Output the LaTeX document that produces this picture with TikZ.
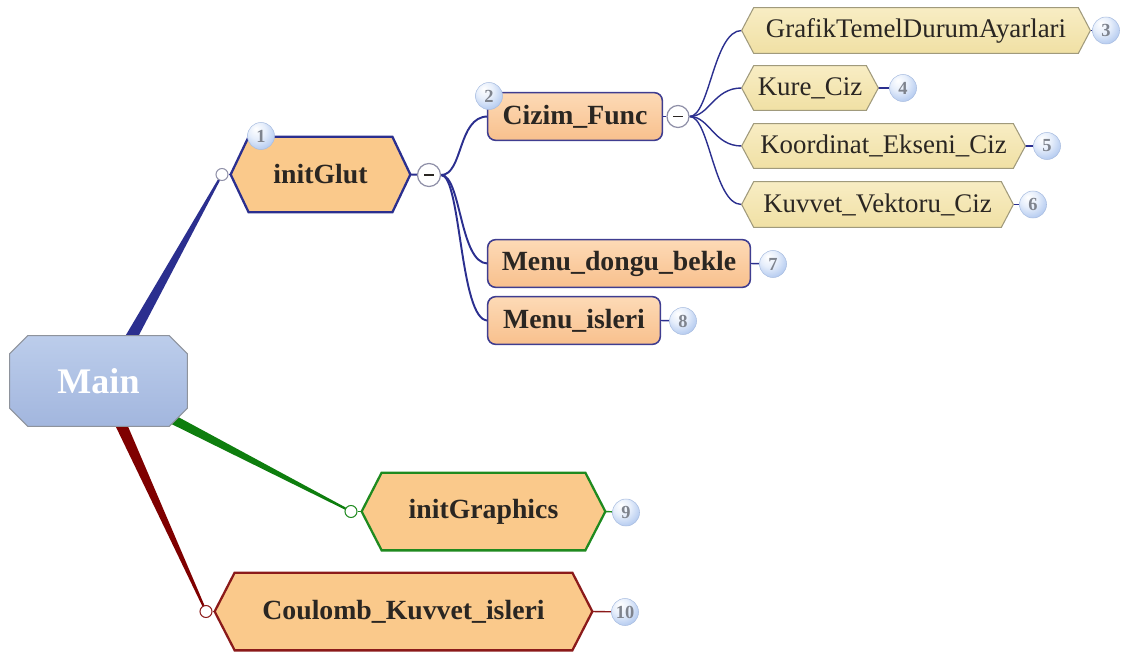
\documentclass[tikz,border=0pt]{standalone}
\usepackage{fontspec}
\setmainfont{Liberation Serif}
\usetikzlibrary{calc}

\pgfdeclarelayer{links}
\pgfdeclarelayer{shapes}
\pgfsetlayers{links,shapes,main}

% palette
\definecolor{peach}{HTML}{FAC98B}
\definecolor{peachlight}{HTML}{FDDAB6}
\definecolor{peachdark}{HTML}{F8C08D}
\definecolor{navy}{HTML}{2B2F8F}
\definecolor{navysoft}{HTML}{3F3D90}
\definecolor{khakilight}{HTML}{F8EDC4}
\definecolor{khaki}{HTML}{F0E0A4}
\definecolor{khakirim}{HTML}{A09A7C}
\definecolor{grassgreen}{HTML}{1F8A1F}
\definecolor{greenlink}{HTML}{0E7E0E}
\definecolor{maroon}{HTML}{8B1A1A}
\definecolor{redlink}{HTML}{7F0000}
\definecolor{mainlight}{HTML}{BCCDEB}
\definecolor{maindark}{HTML}{A2B6DE}
\definecolor{mainrim}{HTML}{8E939C}
\definecolor{badgeblue}{HTML}{93B3E8}
\definecolor{badgelight}{HTML}{E6EEFB}
\definecolor{badgedark}{HTML}{6A8CCB}
\definecolor{badgerim}{HTML}{A9BDE0}
\definecolor{badgenum}{HTML}{7E838D}
\definecolor{foldrim}{HTML}{8F90A8}
\definecolor{inkdark}{HTML}{2A2622}

% glossy sphere for the number badges
\pgfdeclareradialshading{badgeball}{\pgfpoint{-10bp}{14bp}}{%
  color(0bp)=(white); color(16bp)=(badgelight); color(44bp)=(badgeblue); color(66bp)=(badgedark)}

\tikzset{
  lbl/.style={inner sep=0pt, text=inkdark},
  sz/.style 2 args={minimum width=#1*0.02cm, minimum height=#2*0.02cm},
  boldtxt/.style={font=\bfseries\fontsize{15.8}{18}\selectfont},
  plaintxt/.style={font=\fontsize{15.3}{18}\selectfont},
  badge/.style={circle, inner sep=0pt, minimum size=27*0.02cm, shade, shading=badgeball,
    draw=badgerim, line width=0.3pt, font=\bfseries\fontsize{10.5}{11}\selectfont, text=badgenum},
  joint/.style={circle, inner sep=0pt, minimum size=12*0.02cm, fill=white, draw=#1, line width=0.6pt},
  foldbtn/.style={circle, inner sep=0pt, minimum size=23*0.02cm, fill=white, draw=foldrim, line width=0.7pt},
  mainfill/.style={top color=mainlight, bottom color=maindark, draw=mainrim, line width=0.6pt},
  hexpeach/.style={fill=peach, draw=#1, line width=1.3pt, line join=miter},
  roundpeach/.style={top color=peachlight, bottom color=peachdark, draw=navysoft, line width=0.9pt, rounded corners=0.16cm},
  hexkhaki/.style={top color=khakilight, bottom color=khaki, draw=khakirim, line width=0.6pt},
  branch/.style={draw=navy, line width=1.1pt},
  twig/.style={draw=navy, line width=0.8pt},
  stub/.style={draw=#1, line width=0.8pt},
}

% outlines drawn behind the labels
\newcommand\hexout[3]{%
  \begin{pgfonlayer}{shapes}
  \path[#3] (#1.west) -- ($(#1.north west)+(#2,0)$) -- ($(#1.north east)+(-#2,0)$)
    -- (#1.east) -- ($(#1.south east)+(-#2,0)$) -- ($(#1.south west)+(#2,0)$) -- cycle;
  \end{pgfonlayer}}
\newcommand\octout[3]{%
  \begin{pgfonlayer}{shapes}
  \path[#3] ($(#1.north west)+(#2,0)$) -- ($(#1.north east)+(-#2,0)$) -- ($(#1.north east)+(0,#2)$)
    -- ($(#1.south east)+(0,-#2)$) -- ($(#1.south east)+(-#2,0)$) -- ($(#1.south west)+(#2,0)$)
    -- ($(#1.south west)+(0,-#2)$) -- ($(#1.north west)+(0,#2)$) -- cycle;
  \end{pgfonlayer}}
\newcommand\boxout[2]{%
  \begin{pgfonlayer}{shapes}
  \path[#2] (#1.north west) rectangle (#1.south east);
  \end{pgfonlayer}}
% tapered band from a wide start to a thin end
\newcommand\taper[5]{%
  \fill[#5] ($(#1)!#3!90:(#2)$) -- ($(#2)!#4!-90:(#1)$) -- ($(#2)!#4!90:(#1)$) -- ($(#1)!#3!-90:(#2)$) -- cycle;}

\begin{document}
\begin{tikzpicture}[x=0.02cm,y=-0.02cm]
\useasboundingbox (0,0) rectangle (1131,652);

% ---- labels ----
\node[lbl, sz={177}{90}, font=\bfseries\fontsize{20.5}{24}\selectfont, text=white] (main) at (98.5,381) {Main};

\node[lbl, boldtxt, sz={179}{75}] (glut) at (320.5,174.5) {initGlut};
\node[lbl, boldtxt, sz={174}{47}] (cizim) at (575,116.5) {Cizim\_Func};
\node[lbl, boldtxt, sz={262}{47}] (dongu) at (619,263.5) {Menu\_dongu\_bekle};
\node[lbl, boldtxt, sz={172}{47}] (isleri) at (574,320.5) {Menu\_isleri};

\node[lbl, plaintxt, sz={348}{45}] (grafik) at (916,30.5) {Graf{}ikTemelDurumAyarlari};
\node[lbl, plaintxt, sz={136}{44}] (kure) at (810,88) {Kure\_Ciz};
\node[lbl, plaintxt, sz={283}{44}] (koord) at (883.5,146) {Koordinat\_Ekseni\_Ciz};
\node[lbl, plaintxt, sz={271}{45}] (kuvvet) at (877.5,204.5) {Kuvvet\_Vektoru\_Ciz};

\node[lbl, boldtxt, sz={243}{77}] (graphics) at (483.5,511.5) {initGraphics};
\node[lbl, boldtxt, sz={377}{77}] (coulomb) at (403.5,611.5) {Coulomb\_Kuvvet\_isleri};

% ---- outlines ----
\octout{main}{18}{mainfill}
\hexout{glut}{18}{hexpeach=navy}
\boxout{cizim}{roundpeach}
\boxout{dongu}{roundpeach}
\boxout{isleri}{roundpeach}
\hexout{grafik}{12}{hexkhaki}
\hexout{kure}{12}{hexkhaki}
\hexout{koord}{12}{hexkhaki}
\hexout{kuvvet}{12}{hexkhaki}
\hexout{graphics}{20}{hexpeach=grassgreen}
\hexout{coulomb}{20}{hexpeach=maroon}

% ---- joints and fold buttons ----
\node[joint=foldrim] (glutdot) at (222,174.5) {};
\node[joint=grassgreen] (gfxdot) at (351,511.5) {};
\node[joint=maroon] (cdot) at (206,611.5) {};
\node[foldbtn] (gminus) at (429,175) {};
\node[foldbtn, minimum size=22*0.02cm] (cminus) at (678,116.5) {};
\draw[line width=0.8pt, inkdark] ($(gminus)+(-5,0)$) -- ($(gminus)+(5,0)$);
\draw[line width=0.8pt, inkdark] ($(cminus)+(-5,0)$) -- ($(cminus)+(5,0)$);

% ---- number badges ----
\node[badge] (b1) at (261,136) {1};
\node[badge] (b2) at (489,96) {2};
\node[badge] (b3) at (1106,30.5) {3};
\node[badge] (b4) at (903,88) {4};
\node[badge] (b5) at (1047,146) {5};
\node[badge] (b6) at (1033,204.5) {6};
\node[badge] (b7) at (773,264) {7};
\node[badge] (b8) at (683,321) {8};
\node[badge] (b9) at (626,512.5) {9};
\node[badge] (b10) at (625,612) {10};

% ---- connectors ----
\begin{pgfonlayer}{links}
  \coordinate (mtop) at (127,345);
  \coordinate (mright) at (170,418);
  \coordinate (mbottom) at (119,420);
  \taper{mtop}{glutdot}{0.12cm}{0.02cm}{navy}
  \taper{mright}{gfxdot}{0.095cm}{0.02cm}{greenlink}
  \taper{mbottom}{cdot}{0.115cm}{0.02cm}{redlink}

  \draw[stub=navy] (glutdot) -- (glut.west);
  \draw[stub=grassgreen] (gfxdot) -- (graphics.west);
  \draw[stub=maroon] (cdot) -- (coulomb.west);

  \draw[branch] (glut.east) -- (gminus);
  \draw[branch] (gminus.east) .. controls +(22,0) and +(-30,0) .. (cizim.west);
  \draw[branch] (gminus.east) .. controls +(20,0) and +(-28,0) .. (dongu.west);
  \draw[branch] (gminus.east) .. controls +(20,0) and +(-28,0) .. (isleri.west);

  \draw[twig] (cizim.east) -- (cminus);
  \draw[twig] (cminus.east) .. controls +(20,0) and +(-28,0) .. (grafik.west);
  \draw[twig] (cminus.east) .. controls +(20,0) and +(-28,0) .. (kure.west);
  \draw[twig] (cminus.east) .. controls +(20,0) and +(-28,0) .. (koord.west);
  \draw[twig] (cminus.east) .. controls +(20,0) and +(-28,0) .. (kuvvet.west);

  \draw[twig] (grafik.east) -- (b3);
  \draw[twig] (kure.east) -- (b4);
  \draw[twig] (koord.east) -- (b5);
  \draw[twig] (kuvvet.east) -- (b6);
  \draw[twig] (dongu.east) -- (b7);
  \draw[twig] (isleri.east) -- (b8);
  \draw[stub=grassgreen] (graphics.east) -- (b9);
  \draw[stub=maroon] (coulomb.east) -- (b10);
\end{pgfonlayer}
\end{tikzpicture}
\end{document}
